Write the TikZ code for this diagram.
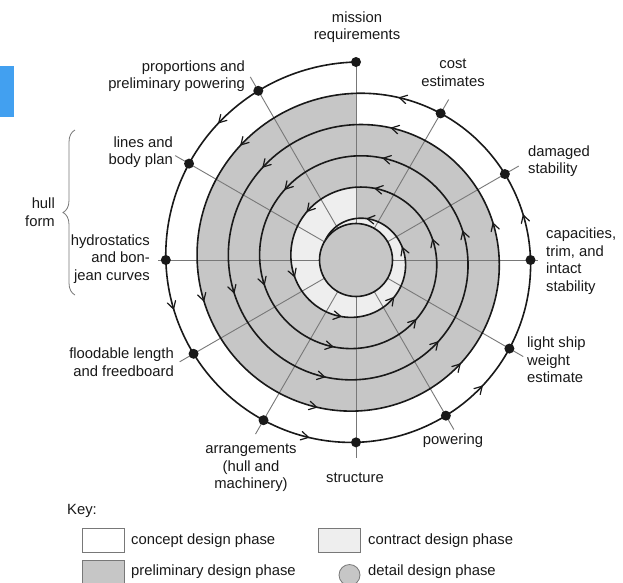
\documentclass[tikz,border=0pt]{standalone}
\usepackage{fontspec}
\setmainfont{Liberation Sans}
\usetikzlibrary{decorations.pathreplacing, calc}
\definecolor{pgray}{RGB}{198,198,198}
\definecolor{clight}{RGB}{238,238,238}
\definecolor{radc}{RGB}{120,120,120}
\definecolor{ink}{RGB}{25,25,25}
\definecolor{keyblue}{RGB}{66,160,240}
\newcommand{\lblfont}{\fontsize{14.8}{17.5}\selectfont}
\begin{document}
\begin{tikzpicture}[x=1pt, y=1pt,
  lbl/.style={font=\lblfont, text=ink, inner sep=0pt},
  dotnode/.style={circle, fill=ink, inner sep=0pt, minimum size=10pt},
  radial/.style={draw=radc, line width=0.9pt},
  spiralline/.style={draw=ink, line width=1.6pt},
  barb/.style={draw=ink, line width=1.2pt, line cap=round},
  keybox/.style={draw=radc, line width=0.8pt},
]
\useasboundingbox (0,0) rectangle (623,-582);
\clip (0,0) rectangle (623,-582);
\fill[white] (0,0) rectangle (623,-582);
\fill[keyblue] (0,-66) rectangle (14,-117);

\coordinate (c) at (356,-260);

% preliminary design phase (gray band)
\fill[pgray] plot[domain=360:720, samples=240, variable=\t]
  ({356+(198-0.086944*\t)*cos(90+\t)}, {-260+(198-0.086944*\t)*sin(90+\t)}) -- cycle;
% contract design phase (light band)
\fill[clight] plot[domain=1440:1800, samples=240, variable=\t]
  ({356+(198-0.086944*\t)*cos(90+\t)}, {-260+(198-0.086944*\t)*sin(90+\t)}) -- cycle;

% radial lines
\foreach \k/\ext in {0/0, 1/16, 2/16, 3/8, 4/16, 5/16, 6/16, 7/16, 8/16, 9/7, 10/16, 11/16} {
  \pgfmathsetmacro\rr{198-0.086944*30*\k+\ext}
  \draw[radial] ($(c)+(90+30*\k:36.5pt)$) -- ($(c)+(90+30*\k:\rr pt)$);
}

% detail design phase (core circle)
\node[circle, draw=ink, line width=1.6pt, fill=pgray, minimum size=73pt, inner sep=0pt] (core) at (c) {};

% spiral
\draw[spiralline] plot[domain=0:1857, samples=1100, variable=\t]
  ({356+(198-0.086944*\t)*cos(90+\t)}, {-260+(198-0.086944*\t)*sin(90+\t)});

% arrowheads along the spiral
\foreach \k in {0,...,29} {
  \pgfmathsetmacro\ph{45+60*\k}
  \pgfmathsetmacro\rr{198-0.086944*\ph}
  \pgfmathsetmacro\al{180+\ph+atan(4.98/\rr)}
  \draw[barb] ($(c)+(90+\ph:\rr pt)$) coordinate (p) +(\al+150:8.5pt) -- (p) -- +(\al-150:8.5pt);
}

% dots
\foreach \k in {0,...,11} {
  \pgfmathsetmacro\rr{198-0.086944*30*\k}
  \node[dotnode] (d\k) at ($(c)+(90+30*\k:\rr pt)$) {};
}

% labels
\node[lbl, align=center] (lmission) at (357,-27) {mission\\requirements};
\node[lbl, align=right, anchor=east] (lprop) at (245,-76) {proportions and\\preliminary powering};
\node[lbl, align=center] (lcost) at (453,-73) {cost\\estimates};
\node[lbl, align=left, anchor=west] (ldam) at (528,-161) {damaged\\stability};
\node[lbl, align=left, anchor=west] (lcap) at (546,-261) {capacities,\\trim, and\\intact\\stability};
\node[lbl, align=left, anchor=west] (llight) at (527,-360) {light ship\\weight\\estimate};
\node[lbl] (lpow) at (453,-441) {powering};
\node[lbl] (lstruct) at (355,-478) {structure};
\node[lbl, align=center] (larr) at (251,-468) {arrangements\\(hull and\\machinery)};
\node[lbl, align=right, anchor=east] (lflood) at (174,-362) {floodable length\\and freedboard};
\node[lbl, align=right, anchor=east] (lhydro) at (150,-259) {hydrostatics\\and bon-\\jean curves};
\node[lbl, align=right, anchor=east] (llines) at (173,-152) {lines and\\body plan};
\node[lbl, align=right, anchor=east] (lhull) at (55,-212) {hull\\form};

% brace
\draw[draw=radc, line width=0.8pt, decorate, decoration={brace, amplitude=12pt}] (75,-295) -- (75,-130);

% key
\node[lbl, anchor=west] (lkey) at (67,-511) {Key:};
\node[keybox, fill=white, minimum width=42pt, minimum height=24pt, inner sep=0pt] (k1) at (103.5,-540) {};
\node[lbl, anchor=west] (t1) at (131,-541) {concept design phase};
\node[keybox, fill=clight, minimum width=42pt, minimum height=24pt, inner sep=0pt] (k2) at (339.5,-540) {};
\node[lbl, anchor=west] (t2) at (368,-541) {contract design phase};
\node[keybox, fill=pgray, minimum width=42pt, minimum height=36pt, inner sep=0pt] (k3) at (103.5,-578) {};
\node[lbl, anchor=west] (t3) at (131,-572) {preliminary design phase};
\node[keybox, circle, fill=pgray, minimum size=21pt, inner sep=0pt] (k4) at (349.5,-575) {};
\node[lbl, anchor=west] (t4) at (368,-572) {detail design phase};
\end{tikzpicture}
\end{document}
